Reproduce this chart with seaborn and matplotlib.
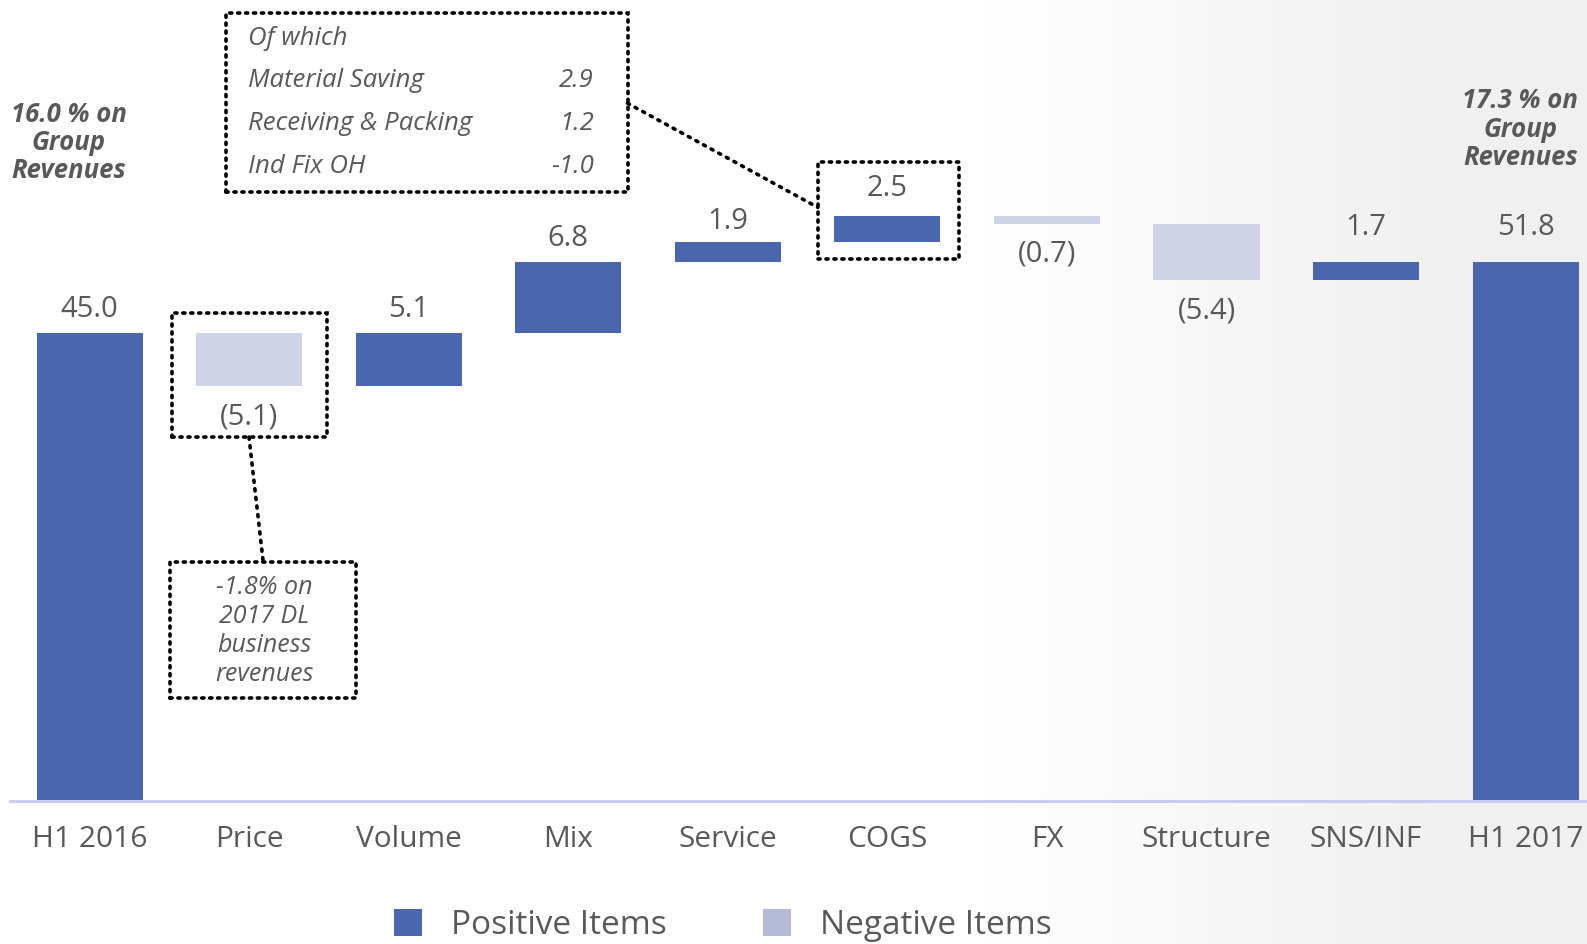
import numpy as np
import pandas as pd
import matplotlib
matplotlib.use("Agg")
import matplotlib.pyplot as plt
import seaborn as sns
from matplotlib.patches import Rectangle, Patch
from matplotlib.lines import Line2D

# Chart data
categories = ["H1 2016", "Price", "Volume", "Mix", "Service", "COGS", "FX",
              "Structure", "SNS/INF", "H1 2017"]
deltas = [45.0, -5.1, 5.1, 6.8, 1.9, 2.5, -0.7, -5.4, 1.7, 51.8]
is_total = [True, False, False, False, False, False, False, False, False, True]
value_labels = ["45.0", "(5.1)", "5.1", "6.8", "1.9", "2.5", "(0.7)", "(5.4)", "1.7", "51.8"]

breakdown_items = ["Material Saving", "Receiving & Packing", "Ind Fix OH"]
breakdown_values = ["2.9", "1.2", "-1.0"]
start_note = ["16.0 % on", "Group", "Revenues"]
end_note = ["17.3 % on", "Group", "Revenues"]
price_note = ["-1.8% on", "2017 DL", "business", "revenues"]
legend_labels = ["Positive Items", "Negative Items"]

POS = "#4A66AC"
NEG = "#CFD3E6"
NEG_LEG = "#B5BBD7"
TXT = "#595959"

# Build waterfall table
df = pd.DataFrame({"cat": categories, "delta": deltas, "total": is_total,
                   "label": value_labels})
running = []
cur = 0.0
for d, t in zip(deltas, is_total):
    if t:
        running.append((0.0, d))
        cur = d
    else:
        running.append((cur, cur + d))
        cur = cur + d
df["start"] = [r[0] for r in running]
df["end"] = [r[1] for r in running]
df["bottom"] = df[["start", "end"]].min(axis=1)
df["height"] = (df["end"] - df["start"]).abs()
df["kind"] = np.where(df["total"] | (df["delta"] > 0), "pos", "neg")

sns.set_style("white")
plt.rcParams["font.family"] = ["Open Sans", "DejaVu Sans"]

fig = plt.figure(figsize=(15.87, 9.44), dpi=100)

# faint grey backdrop fading in on the right
bg = fig.add_axes([0, 0, 1, 1], zorder=-5)
grad = np.clip((np.linspace(0, 1, 400) - 0.62) / 0.3, 0, 1)[None, :]
bg.imshow(grad, aspect="auto", cmap=matplotlib.colors.LinearSegmentedColormap.from_list(
    "bgc", ["#FFFFFF", "#F0F0F0"]), extent=[0, 1, 0, 1], vmin=0, vmax=1)
bg.axis("off")

ax = fig.add_axes([0.0062, 0.1511, 1.0054, 0.8489])
ax.patch.set_alpha(0)

for kind, color in [("pos", POS), ("neg", NEG)]:
    sub = df[df["kind"] == kind]
    sns.barplot(x=sub["cat"], y=sub["height"], order=categories, color=color,
                saturation=1, width=0.665, bottom=sub["bottom"].values,
                errorbar=None, ax=ax, linewidth=0)

ax.set_xlim(-0.5, 9.5)
ax.set_ylim(0, 77)
ax.set(xlabel="", ylabel="", yticks=[])
for s in ["top", "right", "left"]:
    ax.spines[s].set_visible(False)
ax.spines["bottom"].set_color("#C9CCF0")
ax.spines["bottom"].set_linewidth(2.2)
ax.tick_params(axis="x", length=0, pad=17, labelsize=21.5, labelcolor=TXT)

# value labels
extra = {"COGS": 3, "SNS/INF": 8, "H1 2017": 8, "Service": -2}
for i, row in df.iterrows():
    if row["kind"] == "pos":
        y = row["bottom"] + row["height"]
        off = 17 + extra.get(row["cat"], 0)
    else:
        y = row["bottom"]
        off = -22
    ax.annotate(row["label"], (i, y), xytext=(0, off), textcoords="offset points",
                ha="center", va="center", fontsize=21, color=TXT)


# helpers in reference-pixel coordinates (1568 x 933 frame)
def fx(x):
    return x / 1568


def fy(y):
    return 1 - y / 933


def dotted_box(x0, y0, x1, y1):
    fig.patches.append(Rectangle((fx(x0), fy(y1)), fx(x1) - fx(x0), fy(y0) - fy(y1),
                                 transform=fig.transFigure, fill=False, ec="black",
                                 lw=2.6, ls=(0, (0.6, 1.6)), capstyle="round"))


def dotted_line(x0, y0, x1, y1):
    fig.add_artist(Line2D([fx(x0), fx(x1)], [fy(y0), fy(y1)], transform=fig.transFigure,
                          color="black", lw=2.6, ls=(0, (0.6, 1.8)),
                          dash_capstyle="round"))


# breakdown box for COGS
dotted_box(223, 13, 620, 190)
fig.text(fx(245), fy(38), "Of which", ha="left", va="center", style="italic",
         fontsize=18.5, color=TXT)
for k, (name, val) in enumerate(zip(breakdown_items, breakdown_values)):
    yy = 80 + k * 42.5
    fig.text(fx(245), fy(yy), name, ha="left", va="center", style="italic",
             fontsize=18.5, color=TXT)
    fig.text(fx(587), fy(yy), val, ha="right", va="center", style="italic",
             fontsize=18.5, color=TXT)
dotted_box(808, 160, 948, 256)
dotted_line(620, 102, 808, 205)

# price note
dotted_box(170, 309, 323, 432)
dotted_box(168, 555, 352, 690)
dotted_line(246, 432, 260, 555)
for k, line in enumerate(price_note):
    fig.text(fx(261), fy(581 + k * 28.5), line, ha="center", va="center",
             style="italic", fontsize=18, color=TXT)

# side notes
for k, line in enumerate(start_note):
    fig.text(fx(68), fy(113 + k * 28), line, ha="center", va="center",
             style="italic", weight="bold", fontsize=18.5, color=TXT)
for k, line in enumerate(end_note):
    fig.text(fx(1502), fy(99 + k * 28.5), line, ha="center", va="center",
             style="italic", weight="bold", fontsize=18.5, color=TXT)

handles = [Patch(facecolor=POS, edgecolor="none"), Patch(facecolor=NEG_LEG, edgecolor="none")]
fig.legend(handles, legend_labels, loc="center", bbox_to_anchor=(fx(714), fy(915)),
           ncol=2, frameon=False, fontsize=24, handlelength=0.85, handleheight=0.85,
           handletextpad=0.85, columnspacing=2.9, labelcolor=TXT)

fig.savefig("out.png", dpi=100)
